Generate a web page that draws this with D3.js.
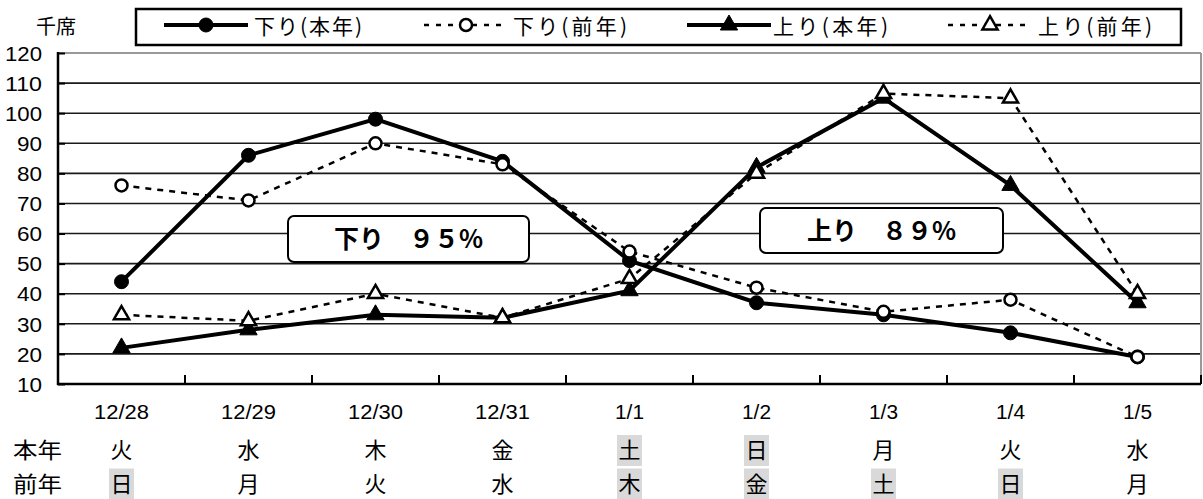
<!DOCTYPE html>
<html>
<head>
<meta charset="utf-8">
<script src="https://cdn.jsdelivr.net/npm/d3@7"></script>
<style>
  body { margin: 0; background: #fff; }
  svg { display: block; }
  text { font-family: "Liberation Sans", "Noto Sans CJK JP", sans-serif; fill: #000; }
  .jp { font-family: "Noto Sans CJK JP", sans-serif; }
</style>
</head>
<body>
<div id="chart"></div>
<script>
// data
var categories = ["12/28", "12/29", "12/30", "12/31", "1/1", "1/2", "1/3", "1/4", "1/5"];
var daysThisYear = ["火", "水", "木", "金", "土", "日", "月", "火", "水"];
var daysLastYear = ["日", "月", "火", "水", "木", "金", "土", "日", "月"];
var holidayThisYear = [false, false, false, false, true, true, false, false, false];
var holidayLastYear = [true, false, false, false, true, true, true, true, false];

var downThisYear = [44, 86, 98, 84, 51, 37, 33, 27, 19];
var downLastYear = [76, 71, 90, 83, 54, 42, 34, 38, 19];
var upThisYear = [22, 28, 33, 32, 41, 82, 105, 76, 37];
var upLastYear = [33, 31, 40, 32, 45, 80, 106.5, 105, 40];

var yTicks = [10, 20, 30, 40, 50, 60, 70, 80, 90, 100, 110, 120];

var width = 1203, height = 499;
var plotLeft = 58, plotRight = 1201, plotTop = 53, plotBottom = 384;

var svg = d3.select("#chart").append("svg")
    .attr("width", width)
    .attr("height", height);

var x = d3.scaleBand().domain(categories).range([plotLeft, plotRight]);
var cx = function(c) { return x(c) + x.bandwidth() / 2; };
var y = d3.scaleLinear().domain([10, 120]).range([plotBottom, plotTop]);

// gridlines
svg.append("g").selectAll("line")
    .data(yTicks.filter(function(t) { return t > 10 && t < 120; }))
    .enter().append("line")
    .attr("x1", plotLeft).attr("x2", plotRight)
    .attr("y1", function(d) { return y(d); })
    .attr("y2", function(d) { return y(d); })
    .style("stroke", "#1a1a1a")
    .style("stroke-width", 1.6);

// top + right border (grey)
svg.append("line")
    .attr("x1", plotLeft).attr("x2", plotRight).attr("y1", y(120)).attr("y2", y(120))
    .style("stroke", "#999").style("stroke-width", 2);
svg.append("line")
    .attr("x1", plotRight).attr("x2", plotRight).attr("y1", y(120)).attr("y2", y(10))
    .style("stroke", "#999").style("stroke-width", 2);

// y axis
var yAxis = svg.append("g")
    .attr("transform", "translate(" + plotLeft + ",0)")
    .call(d3.axisLeft(y).tickValues(yTicks).tickSize(-7).tickPadding(16));
yAxis.select(".domain").remove();
yAxis.selectAll(".tick line").style("stroke", "#000").style("stroke-width", 2);
yAxis.selectAll(".tick text")
    .style("font-family", "Liberation Sans")
    .style("font-size", "20px")
    .attr("dy", "0.36em")
    .attr("textLength", function(d) { return d >= 100 ? 37 : 25; })
    .attr("lengthAdjust", "spacingAndGlyphs");

svg.append("line")
    .attr("x1", plotLeft).attr("x2", plotLeft).attr("y1", y(120) - 1).attr("y2", plotBottom + 1)
    .style("stroke", "#000").style("stroke-width", 2.5);

// x axis with ticks between categories
svg.append("line")
    .attr("x1", plotLeft - 1).attr("x2", plotRight).attr("y1", plotBottom).attr("y2", plotBottom)
    .style("stroke", "#000").style("stroke-width", 2.5);
svg.append("g").selectAll("line")
    .data(categories.slice(1).concat(["end"]))
    .enter().append("line")
    .attr("x1", function(d) { return d === "end" ? plotRight : x(d); })
    .attr("x2", function(d) { return d === "end" ? plotRight : x(d); })
    .attr("y1", plotBottom).attr("y2", plotBottom - 9)
    .style("stroke", "#000").style("stroke-width", 2);

// category labels
svg.append("g").selectAll("text")
    .data(categories)
    .enter().append("text")
    .attr("x", cx)
    .attr("y", 412)
    .attr("dy", "0.36em")
    .attr("text-anchor", "middle")
    .style("font-size", "20px")
    .attr("textLength", function(d) { return d.length > 3 ? 55 : 29; })
    .attr("lengthAdjust", "spacingAndGlyphs")
    .text(function(d) { return d; });

// weekday rows
function dayRow(days, holidays, yc, label) {
    var g = svg.append("g");
    g.selectAll("rect")
        .data(categories.filter(function(c, i) { return holidays[i]; }))
        .enter().append("rect")
        .attr("x", function(d) { return cx(d) - 12.5; })
        .attr("y", yc - 15.5)
        .attr("width", 25)
        .attr("height", 31)
        .style("fill", "#d9d9d9");
    g.selectAll("text")
        .data(days)
        .enter().append("text")
        .attr("class", "jp")
        .attr("x", function(d, i) { return cx(categories[i]); })
        .attr("y", yc)
        .attr("dy", "0.36em")
        .attr("text-anchor", "middle")
        .style("font-size", "22px")
        .text(function(d) { return d; });
    g.append("text")
        .attr("class", "jp")
        .attr("x", 13)
        .attr("y", yc)
        .attr("dy", "0.36em")
        .style("font-size", "22px")
        .attr("textLength", 49)
        .attr("lengthAdjust", "spacingAndGlyphs")
        .text(label);
}
dayRow(daysThisYear, holidayThisYear, 450.5, "本年");
dayRow(daysLastYear, holidayLastYear, 484, "前年");

// unit label
svg.append("text")
    .attr("class", "jp")
    .attr("x", 56).attr("y", 27)
    .attr("dy", "0.36em")
    .attr("text-anchor", "middle")
    .style("font-size", "20px")
    .text("千席");

// annotation boxes
function note(x0, y0, w, h, label) {
    svg.append("rect")
        .attr("x", x0).attr("y", y0)
        .attr("width", w).attr("height", h)
        .attr("rx", 6)
        .style("fill", "#fff")
        .style("stroke", "#000")
        .style("stroke-width", 2);
    svg.append("text")
        .attr("class", "jp")
        .attr("x", x0 + w / 2).attr("y", y0 + h / 2)
        .attr("dy", "0.36em")
        .attr("text-anchor", "middle")
        .style("font-size", "25px")
        .style("font-weight", "bold")
        .text(label);
}
note(288, 216, 241, 46, "下り　９５%");
note(760, 208, 243, 45, "上り　８９%");

// series
var series = [
    { name: "下り(本年)", values: downThisYear, dashed: false, marker: "circle" },
    { name: "下り(前年)", values: downLastYear, dashed: true, marker: "circle" },
    { name: "上り(本年)", values: upThisYear, dashed: false, marker: "triangle" },
    { name: "上り(前年)", values: upLastYear, dashed: true, marker: "triangle" }
];

var line = d3.line()
    .x(function(d, i) { return cx(categories[i]); })
    .y(function(d) { return y(d); });

var tri = d3.symbol().type(d3.symbolTriangle);

function drawMarker(sel, s) {
    if (s.marker === "circle") {
        sel.append("circle")
            .attr("r", s.dashed ? 6 : 7)
            .style("fill", s.dashed ? "#fff" : "#000")
            .style("stroke", "#000")
            .style("stroke-width", s.dashed ? 2.5 : 1);
    } else {
        sel.append("path")
            .attr("d", tri.size(s.dashed ? 100 : 130)())
            .style("fill", s.dashed ? "#fff" : "#000")
            .style("stroke", "#000")
            .style("stroke-width", s.dashed ? 2.5 : 1);
    }
}

series.forEach(function(s) {
    var g = svg.append("g");
    g.append("path")
        .datum(s.values)
        .attr("d", line)
        .style("fill", "none")
        .style("stroke", "#000")
        .style("stroke-width", s.dashed ? 2.5 : 4)
        .style("stroke-dasharray", s.dashed ? "6,6" : null);
    g.selectAll("g.pt")
        .data(s.values)
        .enter().append("g")
        .attr("class", "pt")
        .attr("transform", function(d, i) { return "translate(" + cx(categories[i]) + "," + y(d) + ")"; })
        .each(function() { drawMarker(d3.select(this), s); });
});

// legend
svg.append("rect")
    .attr("x", 136).attr("y", 9)
    .attr("width", 1045).attr("height", 36)
    .style("fill", "#fff")
    .style("stroke", "#000")
    .style("stroke-width", 2.5);

var legendItems = [
    { lineX: 164, textX: 254, textLen: 108 },
    { lineX: 424, textX: 513, textLen: 114 },
    { lineX: 687, textX: 773, textLen: 115 },
    { lineX: 948, textX: 1038, textLen: 114 }
];
series.forEach(function(s, i) {
    var it = legendItems[i];
    var g = svg.append("g");
    g.append("line")
        .attr("x1", it.lineX).attr("x2", it.lineX + 84)
        .attr("y1", 25).attr("y2", 25)
        .style("stroke", "#000")
        .style("stroke-width", s.dashed ? 2.5 : 4)
        .style("stroke-dasharray", s.dashed ? "5,7" : null);
    var m = g.append("g").attr("transform", "translate(" + (it.lineX + 42) + ",25)");
    drawMarker(m, s);
    g.append("text")
        .attr("class", "jp")
        .attr("x", it.textX).attr("y", 26)
        .attr("dy", "0.36em")
        .style("font-size", "21px")
        .attr("textLength", it.textLen)
        .attr("lengthAdjust", "spacing")
        .text(s.name);
});
</script>
</body>
</html>
